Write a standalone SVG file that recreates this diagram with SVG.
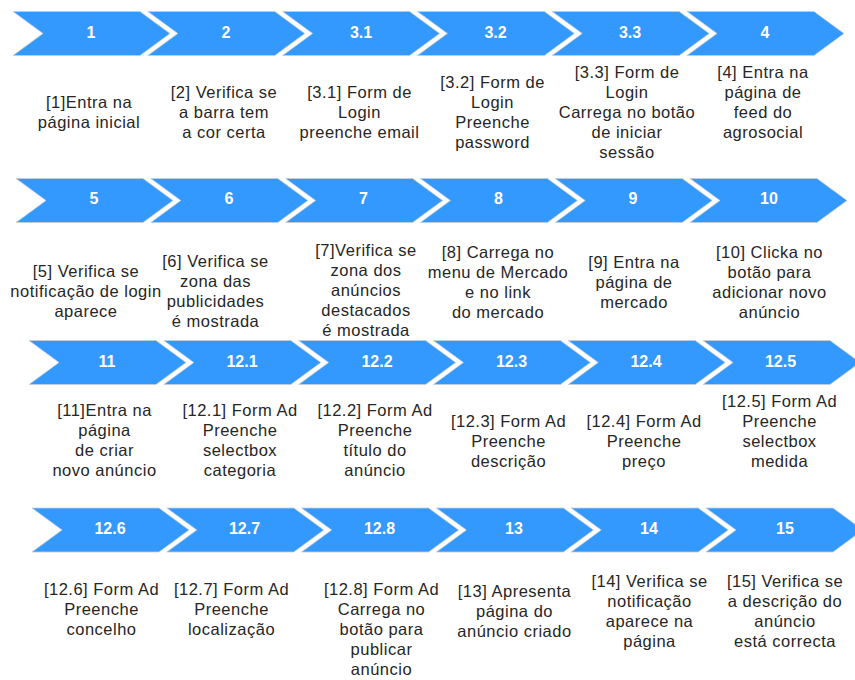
<svg xmlns="http://www.w3.org/2000/svg" xmlns:xlink="http://www.w3.org/1999/xlink" width="855" height="680" viewBox="0 0 855 680">
  <defs>
    <!-- one step of the process: arrow-shaped band, 127 wide body + 30 tip, 44 tall -->
    <path id="chev" d="M0,0 H127 L157,22 L127,44 H0 L30,22 Z"/>
    <style>
      .step { fill: #3399ff; stroke: #c4cdd6; stroke-width: 0.8; }
      .num { font-family: "Liberation Sans", Arial, Helvetica, sans-serif; font-size: 16px; font-weight: bold; fill: #ffffff; text-anchor: middle; }
      .desc { font-family: "Liberation Sans", Arial, Helvetica, sans-serif; font-size: 16.5px; letter-spacing: 0.5px; fill: #262626; text-anchor: middle; }
    </style>
  </defs>
  <rect width="855" height="680" fill="#ffffff"/>

  <!-- row 1 -->
  <g id="step-1">
    <use xlink:href="#chev" class="step" x="13" y="11.5"/>
    <text class="num" x="91" y="37.5">1</text>
    <text class="desc"><tspan x="89" y="108">[1]Entra na</tspan><tspan x="89" y="128">página inicial</tspan></text>
  </g>
  <g id="step-2">
    <use xlink:href="#chev" class="step" x="147.8" y="11.5"/>
    <text class="num" x="226" y="37.5">2</text>
    <text class="desc"><tspan x="224" y="98">[2] Verifica se</tspan><tspan x="224" y="118">a barra tem</tspan><tspan x="224" y="138">a cor certa</tspan></text>
  </g>
  <g id="step-3-1">
    <use xlink:href="#chev" class="step" x="282.6" y="11.5"/>
    <text class="num" x="361" y="37.5">3.1</text>
    <text class="desc"><tspan x="359.5" y="98">[3.1] Form de</tspan><tspan x="359.5" y="118">Login</tspan><tspan x="359.5" y="138">preenche email</tspan></text>
  </g>
  <g id="step-3-2">
    <use xlink:href="#chev" class="step" x="417.4" y="11.5"/>
    <text class="num" x="495.5" y="37.5">3.2</text>
    <text class="desc"><tspan x="492.5" y="88">[3.2] Form de</tspan><tspan x="492.5" y="108">Login</tspan><tspan x="492.5" y="128">Preenche</tspan><tspan x="492.5" y="148">password</tspan></text>
  </g>
  <g id="step-3-3">
    <use xlink:href="#chev" class="step" x="552.2" y="11.5"/>
    <text class="num" x="630" y="37.5">3.3</text>
    <text class="desc"><tspan x="627" y="78">[3.3] Form de</tspan><tspan x="627" y="98">Login</tspan><tspan x="627" y="118">Carrega no botão</tspan><tspan x="627" y="138">de iniciar</tspan><tspan x="627" y="158">sessão</tspan></text>
  </g>
  <g id="step-4">
    <use xlink:href="#chev" class="step" x="687" y="11.5"/>
    <text class="num" x="765" y="37.5">4</text>
    <text class="desc"><tspan x="763" y="78">[4] Entra na</tspan><tspan x="763" y="98">página de</tspan><tspan x="763" y="118">feed do</tspan><tspan x="763" y="138">agrosocial</tspan></text>
  </g>

  <!-- row 2 -->
  <g id="step-5">
    <use xlink:href="#chev" class="step" x="16" y="178.5"/>
    <text class="num" x="94" y="204">5</text>
    <text class="desc"><tspan x="86" y="277">[5] Verifica se</tspan><tspan x="86" y="297">notificação de login</tspan><tspan x="86" y="317">aparece</tspan></text>
  </g>
  <g id="step-6">
    <use xlink:href="#chev" class="step" x="150.8" y="178.5"/>
    <text class="num" x="229" y="204">6</text>
    <text class="desc"><tspan x="215.5" y="267">[6] Verifica se</tspan><tspan x="215.5" y="287">zona das</tspan><tspan x="215.5" y="307">publicidades</tspan><tspan x="215.5" y="327">é mostrada</tspan></text>
  </g>
  <g id="step-7">
    <use xlink:href="#chev" class="step" x="285.6" y="178.5"/>
    <text class="num" x="363.5" y="204">7</text>
    <text class="desc"><tspan x="366" y="256">[7]Verifica se</tspan><tspan x="366" y="276">zona dos</tspan><tspan x="366" y="296">anúncios</tspan><tspan x="366" y="316">destacados</tspan><tspan x="366" y="336">é mostrada</tspan></text>
  </g>
  <g id="step-8">
    <use xlink:href="#chev" class="step" x="420.4" y="178.5"/>
    <text class="num" x="498.5" y="204">8</text>
    <text class="desc"><tspan x="498" y="258">[8] Carrega no</tspan><tspan x="498" y="278">menu de Mercado</tspan><tspan x="498" y="298">e no link</tspan><tspan x="498" y="318">do mercado</tspan></text>
  </g>
  <g id="step-9">
    <use xlink:href="#chev" class="step" x="555.2" y="178.5"/>
    <text class="num" x="633" y="204">9</text>
    <text class="desc"><tspan x="634" y="268">[9] Entra na</tspan><tspan x="634" y="288">página de</tspan><tspan x="634" y="308">mercado</tspan></text>
  </g>
  <g id="step-10">
    <use xlink:href="#chev" class="step" x="690" y="178.5"/>
    <text class="num" x="769" y="204">10</text>
    <text class="desc"><tspan x="769.5" y="258">[10] Clicka no</tspan><tspan x="769.5" y="278">botão para</tspan><tspan x="769.5" y="298">adicionar novo</tspan><tspan x="769.5" y="318">anúncio</tspan></text>
  </g>

  <!-- row 3 -->
  <g id="step-11">
    <use xlink:href="#chev" class="step" x="29" y="340.5"/>
    <text class="num" x="107" y="367">11</text>
    <text class="desc"><tspan x="104.5" y="416">[11]Entra na</tspan><tspan x="104.5" y="436">página</tspan><tspan x="104.5" y="456">de criar</tspan><tspan x="104.5" y="476">novo anúncio</tspan></text>
  </g>
  <g id="step-12-1">
    <use xlink:href="#chev" class="step" x="163.8" y="340.5"/>
    <text class="num" x="242" y="367">12.1</text>
    <text class="desc"><tspan x="240" y="416">[12.1] Form Ad</tspan><tspan x="240" y="436">Preenche</tspan><tspan x="240" y="456">selectbox</tspan><tspan x="240" y="476">categoria</tspan></text>
  </g>
  <g id="step-12-2">
    <use xlink:href="#chev" class="step" x="298.6" y="340.5"/>
    <text class="num" x="377" y="367">12.2</text>
    <text class="desc"><tspan x="375" y="416">[12.2] Form Ad</tspan><tspan x="375" y="436">Preenche</tspan><tspan x="375" y="456">título do</tspan><tspan x="375" y="476">anúncio</tspan></text>
  </g>
  <g id="step-12-3">
    <use xlink:href="#chev" class="step" x="433.4" y="340.5"/>
    <text class="num" x="511.5" y="367">12.3</text>
    <text class="desc"><tspan x="508.5" y="427">[12.3] Form Ad</tspan><tspan x="508.5" y="447">Preenche</tspan><tspan x="508.5" y="467">descrição</tspan></text>
  </g>
  <g id="step-12-4">
    <use xlink:href="#chev" class="step" x="568.2" y="340.5"/>
    <text class="num" x="646" y="367">12.4</text>
    <text class="desc"><tspan x="644" y="427">[12.4] Form Ad</tspan><tspan x="644" y="447">Preenche</tspan><tspan x="644" y="467">preço</tspan></text>
  </g>
  <g id="step-12-5">
    <use xlink:href="#chev" class="step" x="703" y="340.5"/>
    <text class="num" x="780.5" y="367">12.5</text>
    <text class="desc"><tspan x="779.5" y="407">[12.5] Form Ad</tspan><tspan x="779.5" y="427">Preenche</tspan><tspan x="779.5" y="447">selectbox</tspan><tspan x="779.5" y="467">medida</tspan></text>
  </g>

  <!-- row 4 -->
  <g id="step-12-6">
    <use xlink:href="#chev" class="step" x="32" y="508"/>
    <text class="num" x="110" y="533.5">12.6</text>
    <text class="desc"><tspan x="101.5" y="595">[12.6] Form Ad</tspan><tspan x="101.5" y="615">Preenche</tspan><tspan x="101.5" y="635">concelho</tspan></text>
  </g>
  <g id="step-12-7">
    <use xlink:href="#chev" class="step" x="166.8" y="508"/>
    <text class="num" x="244.5" y="533.5">12.7</text>
    <text class="desc"><tspan x="231.5" y="595">[12.7] Form Ad</tspan><tspan x="231.5" y="615">Preenche</tspan><tspan x="231.5" y="635">localização</tspan></text>
  </g>
  <g id="step-12-8">
    <use xlink:href="#chev" class="step" x="301.6" y="508"/>
    <text class="num" x="379.5" y="533.5">12.8</text>
    <text class="desc"><tspan x="381.5" y="595">[12.8] Form Ad</tspan><tspan x="381.5" y="615">Carrega no</tspan><tspan x="381.5" y="635">botão para</tspan><tspan x="381.5" y="655">publicar</tspan><tspan x="381.5" y="675">anúncio</tspan></text>
  </g>
  <g id="step-13">
    <use xlink:href="#chev" class="step" x="436.4" y="508"/>
    <text class="num" x="514" y="533.5">13</text>
    <text class="desc"><tspan x="514.5" y="597">[13] Apresenta</tspan><tspan x="514.5" y="617">página do</tspan><tspan x="514.5" y="637">anúncio criado</tspan></text>
  </g>
  <g id="step-14">
    <use xlink:href="#chev" class="step" x="571.2" y="508"/>
    <text class="num" x="649" y="533.5">14</text>
    <text class="desc"><tspan x="649.5" y="587">[14] Verifica se</tspan><tspan x="649.5" y="607">notificação</tspan><tspan x="649.5" y="627">aparece na</tspan><tspan x="649.5" y="647">página</tspan></text>
  </g>
  <g id="step-15">
    <use xlink:href="#chev" class="step" x="706" y="508"/>
    <text class="num" x="785" y="533.5">15</text>
    <text class="desc"><tspan x="785" y="587">[15] Verifica se</tspan><tspan x="785" y="607">a descrição do</tspan><tspan x="785" y="627">anúncio</tspan><tspan x="785" y="647">está correcta</tspan></text>
  </g>
</svg>
